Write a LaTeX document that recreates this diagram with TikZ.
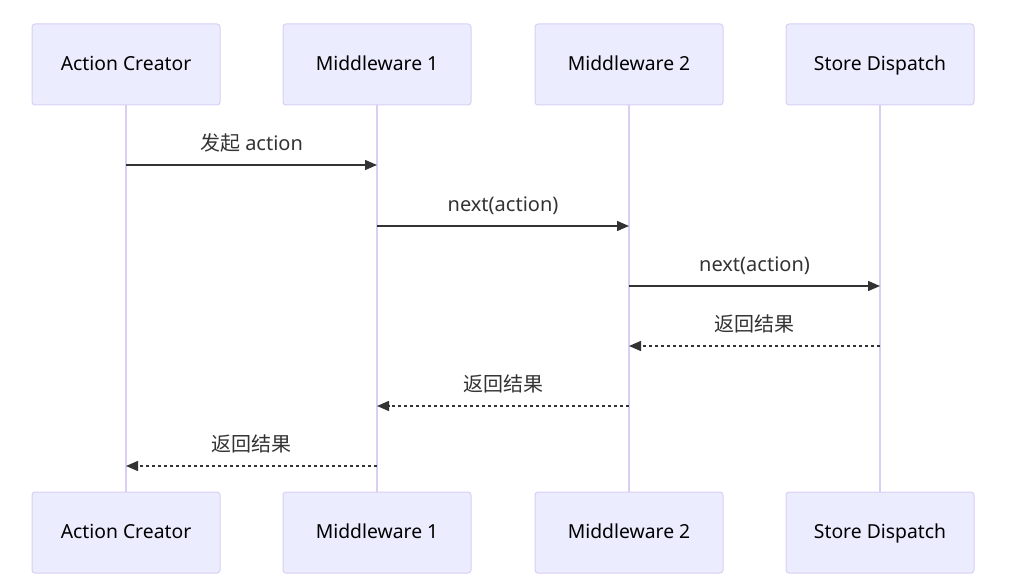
\documentclass[tikz,border=0pt]{standalone}
\usepackage{fontspec}
\setmainfont{Noto Sans}
\newfontfamily\cjk{Noto Sans CJK SC}
\usetikzlibrary{arrows.meta}
\definecolor{actfill}{HTML}{ECECFF}
\definecolor{actline}{HTML}{DACEF3}
\definecolor{ink}{HTML}{333333}
\tikzset{
	actor/.style={draw=actline, fill=actfill, line width=0.75pt, rounded corners=2.25pt, minimum width=141pt, minimum height=60.75pt, text=black, text height=0.95em, text depth=0.12em, font=\fontsize{14.5}{17}\selectfont},
	lifeline/.style={line width=1.5pt, color=actline},
	msg/.style={line width=1.1pt, color=ink, -{Triangle[length=9pt, width=7.5pt]}},
	reply/.style={msg, dash pattern=on 2.25pt off 2.25pt},
	lbl/.style={text=ink, anchor=base, yshift=11pt, inner sep=0pt, font=\fontsize{15}{18}\selectfont}
}

\begin{document}
\begin{tikzpicture}[x=0.75pt, y=-0.75pt]
		%%%%% START %%%%%
		
		\useasboundingbox (0, 0) rectangle (1035, 581);
		
		\node[actor] (ac) at (126, 64.5) {Action Creator};
		\node[actor] (mw1) at (377, 64.5) {Middleware 1};
		\node[actor] (mw2) at (629, 64.5) {Middleware 2};
		\node[actor] (sd) at (880, 64.5) {Store Dispatch};
		
		\node[actor] (acb) at (126, 532.5) {Action Creator};
		\node[actor] (mw1b) at (377, 532.5) {Middleware 1};
		\node[actor] (mw2b) at (629, 532.5) {Middleware 2};
		\node[actor] (sdb) at (880, 532.5) {Store Dispatch};
		
		\draw[lifeline] (ac) -- (acb);
		\draw[lifeline] (mw1) -- (mw1b);
		\draw[lifeline] (mw2) -- (mw2b);
		\draw[lifeline] (sd) -- (sdb);
		
		\draw[msg] (ac |- 0, 165) -- (mw1 |- 0, 165) node[lbl, midway] {{\cjk 发起} action};
		\draw[msg] (mw1 |- 0, 226) -- (mw2 |- 0, 226) node[lbl, midway] {next(action)};
		\draw[msg] (mw2 |- 0, 286) -- (sd |- 0, 286) node[lbl, midway] {next(action)};
		
		\draw[reply] (sd |- 0, 346) -- (mw2 |- 0, 346) node[lbl, midway] {\cjk 返回结果};
		\draw[reply] (mw2 |- 0, 406) -- (mw1 |- 0, 406) node[lbl, midway] {\cjk 返回结果};
		\draw[reply] (mw1 |- 0, 466) -- (ac |- 0, 466) node[lbl, midway] {\cjk 返回结果};
		
		%%%%% END %%%%%
	\end{tikzpicture}
\end{document}
